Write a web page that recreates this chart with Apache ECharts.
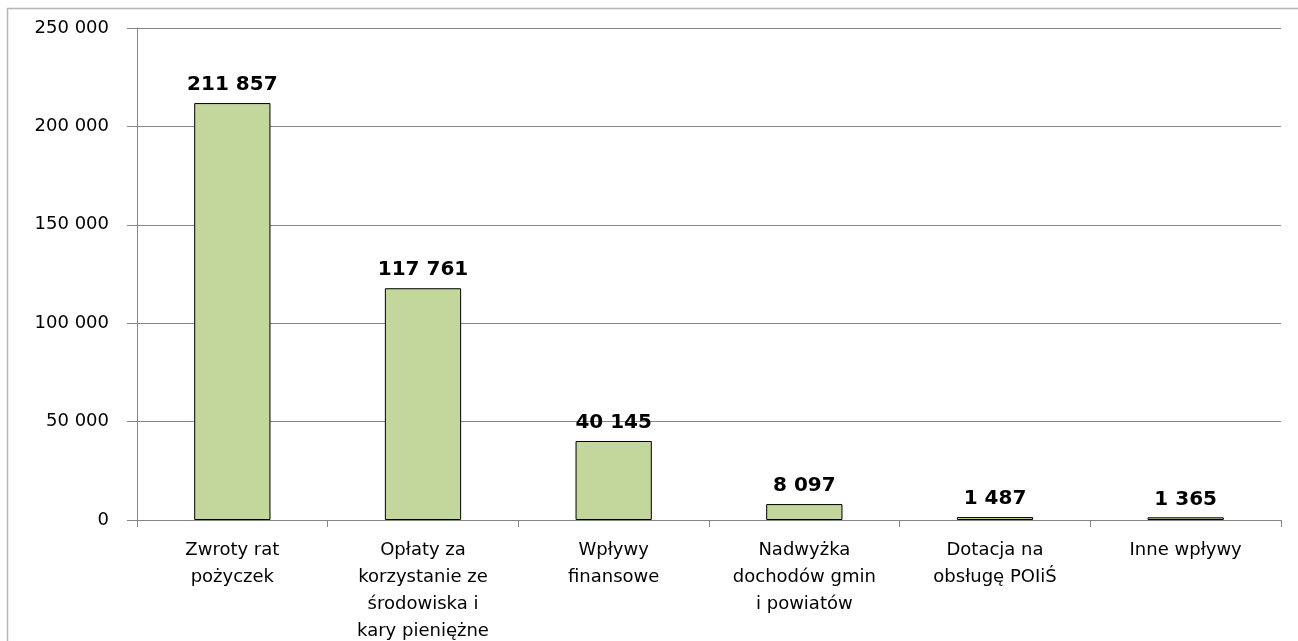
<!DOCTYPE html>
<html>
<head>
<meta charset="utf-8">
<script src="https://cdn.jsdelivr.net/npm/echarts@6/dist/echarts.min.js"></script>
<style>
  html, body { margin: 0; padding: 0; background: #fff; }
  #chart { width: 1298px; height: 641px; }
</style>
</head>
<body>
<div id="chart"></div>
<script>
// kategorie wpływów
const categories = [
  'Zwroty rat\npożyczek',
  'Opłaty za\nkorzystanie ze\nśrodowiska i\nkary pieniężne',
  'Wpływy\nfinansowe',
  'Nadwyżka\ndochodów gmin\ni powiatów',
  'Dotacja na\nobsługę POIiŚ',
  'Inne wpływy'
]
const values = [211857, 117761, 40145, 8097, 1487, 1365]
const yTicks = [0, 50000, 100000, 150000, 200000, 250000]

// 250000 -> "250 000"
function fmt (v) {
  return String(v).replace(/\B(?=(\d{3})+(?!\d))/g, ' ')
}

const font = '"DejaVu Sans", sans-serif'
const myChart = echarts.init(document.getElementById('chart'))
myChart.setOption({
  animation: false,
  graphic: [{
    type: 'rect',
    shape: { x: 7.5, y: 8.5, width: 1400, height: 800 },
    style: { fill: 'none', stroke: '#b5b5b5', lineWidth: 1.5 },
    silent: true
  }],
  grid: { left: 137, right: 17, top: 28, bottom: 121, outerBoundsMode: 'none' },
  xAxis: {
    type: 'category',
    data: categories,
    axisLine: { lineStyle: { color: '#868686', width: 1 } },
    axisTick: { show: true, length: 7, lineStyle: { color: '#868686' } },
    axisLabel: {
      interval: 0,
      margin: 17,
      color: '#000',
      fontFamily: font,
      fontSize: 18,
      lineHeight: 27
    }
  },
  yAxis: {
    type: 'value',
    min: yTicks[0],
    max: yTicks[yTicks.length - 1],
    interval: 50000,
    axisLine: { show: true, lineStyle: { color: '#868686', width: 1 } },
    axisTick: { show: true, length: 10, lineStyle: { color: '#868686' } },
    splitLine: { lineStyle: { color: '#868686', width: 1 } },
    axisLabel: {
      margin: 28,
      color: '#000',
      fontFamily: font,
      fontSize: 18,
      formatter: fmt
    }
  },
  series: [{
    type: 'bar',
    data: values,
    barWidth: '40%',
    itemStyle: { color: '#C3D69B', borderColor: '#000', borderWidth: 1 },
    label: {
      show: true,
      position: 'top',
      distance: 8,
      color: '#000',
      fontFamily: font,
      fontWeight: 'bold',
      fontSize: 20,
      formatter: p => fmt(p.value)
    }
  }]
})
</script>
</body>
</html>
